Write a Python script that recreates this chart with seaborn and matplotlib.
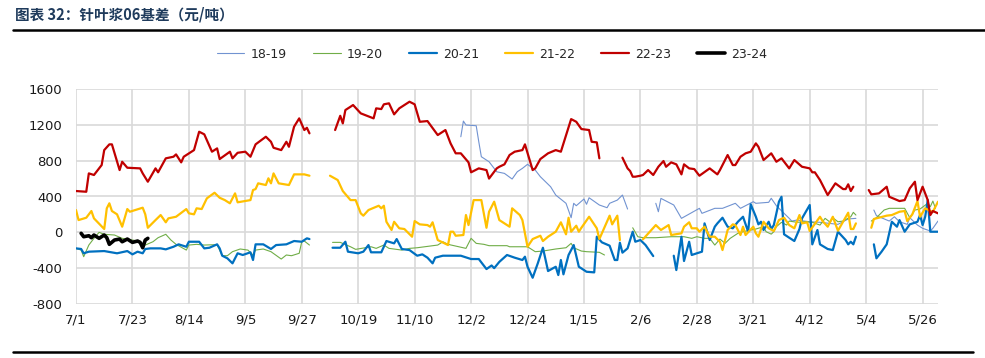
import numpy as np
import pandas as pd
import matplotlib
matplotlib.use('Agg')
import matplotlib.pyplot as plt
from matplotlib.lines import Line2D
import seaborn as sns

sns.set_style('white')
plt.rcParams['font.family'] = ['DejaVu Sans', 'Noto Sans CJK SC']
plt.rcParams['axes.unicode_minus'] = False

# x = 自7/1起的天数, None = 假期断开
tick_labels = ['7/1', '7/23', '8/14', '9/5', '9/27', '10/19', '11/10', '12/2',
               '12/24', '1/15', '2/6', '2/28', '3/21', '4/12', '5/4', '5/26']

x_1819 = [150, 151, 152, 156, 157, 158, 161, 164, 165, 167, 170, 172, 174, 176, 179, 181, 185, 187, 191, 193,
          194, 195, 198, 199, 200, 204, 207, 208, 211, 213, 215, 220,
          226, 227, 228, 233, 236, 243, 244, 249, 252, 257, 259, 264, 265, 270, 271, 273, 276, 278, 279, 281,
          286, 290, 297, 301, 304, 306,
          311, 312, 317, 319, 321, 324, 325, 328, 330, 333, 334, 336]
y_1819 = [1067, 1242, 1198, 1190, 1011, 844, 788, 676, 670, 658, 595, 676, 714, 759, 695, 621, 509, 416, 324, 163,
          324, 297, 372, 313, 386, 305, 275, 324, 360, 416, 260, None,
          324, 230, 379, 305, 156, 268, 212, 268, 268, 324, 268, 342, 324, 335, 380, 297, 212, 156, 126, 137,
          118, 112, 89, 149, 156, None,
          249, 186, 126, 174, 118, 89, 163, 81, 45, 15, 45, 126]

x_1920 = [0, 2, 3, 5, 7, 9, 11, 15, 18, 20, 24, 27, 30, 32, 35, 37, 39, 43, 44, 47,
          50, 52, 55, 57, 59, 61, 64, 67, 69, 70, 73, 76, 80, 82, 84, 87, 88, 89, 91, 95,
          100, 103, 107, 109, 115, 117, 120, 122, 127, 130, 133, 141, 143, 145, 152, 154, 156, 159, 161, 165,
          168, 169, 174, 176, 179, 182, 187, 191, 193, 194, 197, 199, 204, 206, 210,
          217, 219, 221, 226, 232, 237, 240, 242, 245, 247, 249, 251, 253, 255, 258, 260, 265, 268, 269, 271,
          272, 273, 275, 277, 278, 281, 284, 287, 290, 292, 294, 295, 297, 299, 302, 303, 304, 306,
          310, 312, 315, 317, 323, 325, 327, 329, 332, 333, 334, 335]
y_1920 = [-179, -198, -272, -142, -67, 0, -22, -30, -67, -75, -97, -142, -105, -60, -22, -86, -134, -198, -142, -134,
          -142, -140, -138, -261, -261, -216, -186, -198, -253, -198, -186, -216, -298, -253, -261, -234, -105, -97, -142, None,
          -112, -112, -161, -190, -161, -179, -142, -179, -198, -179, -172, -142, -105, -134, -179, -67, -123, -134, -149, -149,
          -149, -161, -161, -161, -216, -209, -186, -172, -123, -172, -209, -216, -223, -253, None,
          51, -49, -60, -60, -49, -49, -67, -49, -67, -67, -142, -75, -123, -67, -11, 7, 37, 63, 7, -20,
          7, 63, 112, 81, 126, 112, 118, 112, 81, 156, 112, 163, 118, 126, 174, 223, 193, None,
          126, 163, 249, 268, 268, 163, 249, 260, 324, 286, 349, 268]

x_2021 = [0, 2, 3, 5, 11, 16, 20, 22, 24, 26, 27, 29, 33, 35, 38, 40, 43, 44, 48, 50,
          52, 55, 56, 57, 59, 61, 63, 65, 68, 69, 70, 73, 76, 78, 82, 85, 88, 90, 91, 95,
          100, 103, 105, 106, 110, 112, 114, 115, 119, 121, 124, 125, 127, 130, 133, 135, 137, 139, 140, 143,
          150, 154, 157, 160, 162, 163, 165, 168, 171, 174, 175, 176, 178, 180, 182, 184, 187, 188, 189, 190,
          192, 193, 194, 196, 198, 199, 202, 203, 205, 208, 210, 211, 212, 213, 215, 217, 218, 220, 222, 225, 229,
          233, 234, 235, 236, 237, 239, 240, 242, 244, 245, 247, 249, 250, 252, 254, 256, 258, 260, 262, 263,
          265, 266, 267, 268, 270, 271, 272, 274, 275, 276, 278, 280, 282, 283, 286, 287, 289, 290, 293, 295,
          297, 300, 301, 302, 303, 304, 306,
          311, 312, 314, 316, 318, 320, 321, 323, 325, 328, 329, 330, 331, 332, 333, 336]
y_2021 = [-179, -186, -234, -216, -209, -234, -209, -246, -216, -234, -186, -179, -179, -190, -161, -134, -161, -105, -105, -179,
          -172, -134, -179, -261, -290, -346, -234, -253, -223, -309, -134, -134, -186, -142, -134, -97, -105, -67, -75, None,
          -172, -172, -105, -216, -234, -216, -142, -223, -223, -97, -123, -75, -186, -198, -261, -246, -283, -346, -283, -261,
          -261, -298, -298, -410, -370, -400, -330, -253, -283, -309, -272, -384, -507, -346, -172, -432, -384, -477, -309, -469,
          -253, -198, -142, -384, -421, -440, -447, -49, -112, -149, -309, -309, -116, -227, -179, 7, -105, -86, -142, -265, None,
          -261, -421, -234, -49, -320, -105, -253, -234, -216, 100, -86, 63, 100, 163, 63, 45, 118, 174, 7, 313,
          174, 89, 118, 26, 118, 37, 81, 342, 397, -22, -60, -97, 37, 156, 305, -134, 26, -134, -186, -198,
          7, -86, -134, -105, -134, -49, None,
          -134, -290, -216, -134, 118, 63, 137, 7, 89, 118, 193, 81, 174, 360, 7, 7]

x_2122 = [0, 1, 4, 6, 7, 11, 12, 13, 14, 16, 18, 20, 21, 26, 27, 28, 31, 33, 35, 36,
          39, 43, 44, 46, 47, 49, 51, 54, 56, 58, 60, 62, 63, 68, 69, 70, 71, 74, 75, 76,
          77, 79, 83, 85, 89, 91, 95,
          99, 102, 104, 107, 109, 111, 112, 114, 118, 119, 120, 121, 123, 124, 126, 128, 131, 132, 134, 137,
          138, 139, 141, 145, 146, 147, 148, 151, 152, 153, 155, 158, 160, 161, 163, 165, 169, 170, 173, 174,
          176, 178, 181, 182, 184, 187, 189, 191, 192, 193, 195, 196, 197, 200, 203, 204, 208, 209, 211, 212, 216,
          221, 226, 228, 231, 232, 236, 237, 239, 240, 242, 243, 245, 247, 249, 251, 252, 254, 256, 257, 259,
          260, 261, 264, 265, 266, 268, 270, 272, 274, 276, 278, 280, 282, 283, 285, 286, 290, 291, 293, 295,
          297, 301, 302, 303, 304, 306,
          310, 311, 316, 318, 321, 323, 324, 326, 328, 329, 331, 333, 334, 336]
y_2122 = [249, 137, 163, 238, 156, 37, 268, 324, 238, 201, 63, 260, 230, 275, 201, 51, 137, 193, 112, 156,
          174, 260, 212, 201, 268, 260, 379, 442, 386, 360, 324, 435, 335, 360, 472, 483, 547, 528, 603, 547,
          658, 547, 528, 647, 647, 632, None,
          632, 584, 461, 360, 360, 212, 186, 249, 297, 268, 297, 118, 26, 118, 45, 37, -49, 126, 89, 81,
          63, 112, -86, -142, 7, 7, -38, -30, 193, 81, 360, 360, 51, 230, 342, 137, 63, 268, 193, 137,
          -161, -75, -38, -97, -49, 7, 112, -22, 163, 7, 74, 7, 51, 174, 45, -75, 186, 89, 186, -86, None,
          -78, 81, 26, 81, -30, -11, 63, 112, 45, 45, 7, 63, -49, -49, -105, -198, 26, 89, 81, -30,
          63, -30, 63, -11, -49, 118, 45, 15, 137, 163, 81, 45, 193, 100, 112, 15, 174, 126, 63, 174,
          18, 219, 37, 37, 100, None,
          51, 149, 186, 193, 230, 238, 126, 201, 349, 174, 268, 238, 230, 342]

x_2223 = [0, 4, 5, 7, 10, 11, 13, 14, 17, 18, 20, 25, 26, 28, 31, 32, 35, 38, 39, 41,
          42, 46, 48, 50, 53, 55, 56, 60, 61, 63, 66, 68, 70, 74, 76, 77, 80, 82, 83, 85,
          87, 89, 90, 91, 95,
          101, 103, 104, 105, 107, 108, 111, 116, 117, 119, 120, 122, 124, 126, 130, 132, 134, 137, 141, 144,
          146, 148, 150, 153, 154, 157, 160, 161, 164, 165, 167, 169, 171, 174, 175, 178, 179, 181, 184, 187,
          189, 193, 195, 197, 200, 201, 203, 204, 208,
          213, 215, 216, 217, 218, 220, 221, 223, 225, 227, 229, 230, 232, 234, 236, 237, 239, 241, 243, 247,
          250, 251, 254, 256, 257, 259, 261, 263, 265, 266, 268, 271, 273, 275, 278, 280, 283, 286, 287, 288,
          290, 293, 296, 299, 300, 301, 302, 303, 306,
          309, 310, 313, 316, 317, 321, 323, 325, 327, 328, 330, 332, 333, 334, 336]
y_2223 = [461, 453, 658, 640, 751, 918, 982, 982, 695, 788, 721, 714, 658, 565, 714, 670, 826, 844, 870, 781,
          844, 918, 1123, 1094, 900, 937, 818, 900, 826, 888, 900, 844, 982, 1067, 1011, 944, 918, 1011, 955, 1179,
          1272, 1142, 1167, 1105, None,
          1142, 1301, 1216, 1365, 1402, 1421, 1328, 1272, 1384, 1376, 1429, 1440, 1317, 1384, 1458, 1429, 1234, 1242, 1086, 1142,
          993, 882, 882, 781, 670, 714, 695, 600, 714, 732, 759, 863, 900, 918, 982, 695, 714, 818, 882, 918,
          900, 1264, 1234, 1153, 1142, 1011, 1004, 826, None,
          833, 714, 684, 621, 621, 632, 640, 695, 640, 732, 796, 732, 781, 759, 647, 759, 714, 706, 632, 714,
          647, 695, 863, 751, 751, 844, 882, 900, 993, 955, 807, 882, 788, 826, 714, 807, 732, 714, 670, 670,
          584, 416, 547, 483, 483, 536, 461, 509, None,
          472, 424, 435, 509, 397, 349, 360, 491, 565, 360, 509, 360, 193, 238, 212]

x_2324 = [2, 3, 5, 6, 7, 9, 11, 12, 13, 15, 17, 18, 20, 22, 24, 25, 26, 27, 28]
y_2324 = [-11, -49, -38, -60, -30, -67, -30, -60, -134, -86, -75, -105, -75, -112, -97, -112, -172, -86, -67]

series = [
    ('18-19', x_1819, y_1819, '#7193d1', 0.8),
    ('19-20', x_1920, y_1920, '#70ad47', 0.8),
    ('20-21', x_2021, y_2021, '#0070c0', 1.6),
    ('21-22', x_2122, y_2122, '#ffc000', 1.6),
    ('22-23', x_2223, y_2223, '#c00000', 1.6),
    ('23-24', x_2324, y_2324, '#000000', 2.6),
]


def split_gaps(xs, ys):
    segs, sx, sy = [], [], []
    for x, y in zip(xs, ys):
        if y is None:
            if sx:
                segs.append((sx, sy))
            sx, sy = [], []
        else:
            sx.append(x)
            sy.append(y)
    if sx:
        segs.append((sx, sy))
    return segs


fig = plt.figure(figsize=(9.85, 3.58), dpi=100)
ax = fig.add_axes([76 / 985, 1 - 304 / 358, (938 - 76) / 985, (304 - 89) / 358])

handles = []
for name, xs, ys, color, lw in series:
    assert len(xs) == len(ys), name
    for sx, sy in split_gaps(xs, ys):
        df = pd.DataFrame({'day': sx, 'val': sy})
        sns.lineplot(data=df, x='day', y='val', ax=ax, color=color, linewidth=lw,
                     estimator=None, sort=False, legend=False)
    handles.append(Line2D([], [], color=color, linewidth=lw, label=name))

ax.set_xlim(0, 336)
ax.set_ylim(-800, 1600)
ax.set_xticks(np.arange(len(tick_labels)) * 22)
ax.set_xticklabels(tick_labels)
ax.set_yticks(np.arange(-800, 1601, 400))
ax.set_xlabel('')
ax.set_ylabel('')
ax.grid(True, color='#d9d9d9', linewidth=1.2)
ax.set_axisbelow(True)
for s in ax.spines.values():
    s.set_visible(False)
ax.tick_params(axis='both', length=0, labelsize=9.5, colors='#1a1a1a')
ax.tick_params(axis='y', pad=10)
ax.tick_params(axis='x', pad=7)

fig.legend(handles=handles, loc='center', bbox_to_anchor=(492 / 985, 1 - 54 / 358), ncol=6,
           frameon=False, fontsize=9, handlelength=2.2, columnspacing=2.1, handletextpad=0.5)

fig.text(15 / 985, 1 - 15 / 358, '图表 32：针叶浆06基差（元/吨）', fontsize=10.5, fontweight='bold',
         color='#1f3b5c', va='center', ha='left', family=['Noto Sans CJK SC', 'DejaVu Sans'])
fig.add_artist(Line2D([13 / 985, 1.0], [1 - 30 / 358] * 2, color='black', linewidth=1.8))
fig.add_artist(Line2D([13 / 985, 973 / 985], [1 - 352 / 358] * 2, color='black', linewidth=1.8))

fig.savefig('out.png', dpi=100)
